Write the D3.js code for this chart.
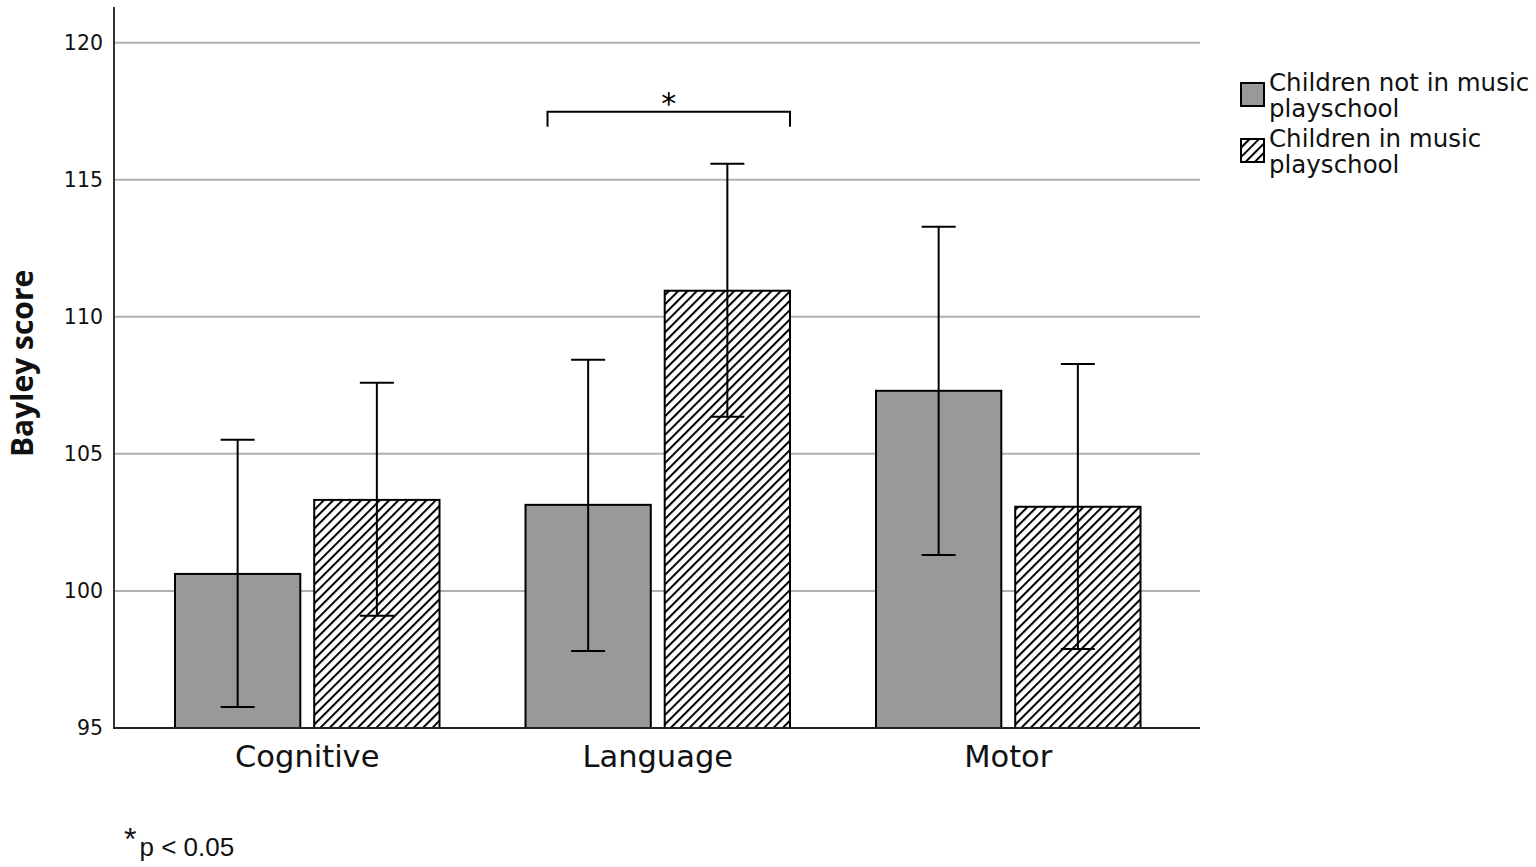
<!DOCTYPE html>
<html>
<head>
<meta charset="utf-8">
<script src="https://cdn.jsdelivr.net/npm/d3@7"></script>
<style>
  html, body { margin: 0; padding: 0; background: #fff; }
  svg { display: block; }
</style>
</head>
<body>
<svg id="chart" width="1536" height="867"></svg>
<script>
const categories = ["Cognitive", "Language", "Motor"];
const groups = ["Children not in music playschool", "Children in music playschool"];
const legendLines = [["Children not in music", "playschool"], ["Children in music", "playschool"]];
const meansNotMusic = [100.62, 103.14, 107.30];
const meansMusic    = [103.32, 110.95, 103.07];
const upperNotMusic = [105.51, 108.43, 113.28];
const lowerNotMusic = [95.77, 97.81, 101.31];
const upperMusic    = [107.59, 115.58, 108.28];
const lowerMusic    = [99.09, 106.35, 97.88];
const yTicks = [95, 100, 105, 110, 115, 120];
const yDomain = [95, 121.3];
const sigCategory = "Language";

const data = categories.map((c, i) => ({
  cat: c,
  vals: [
    { g: groups[0], v: meansNotMusic[i], hi: upperNotMusic[i], lo: lowerNotMusic[i] },
    { g: groups[1], v: meansMusic[i], hi: upperMusic[i], lo: lowerMusic[i] }
  ]
}));

const svg = d3.select("#chart");
const defs = svg.append("defs");
const pat = defs.append("pattern")
  .attr("id", "hatch")
  .attr("patternUnits", "userSpaceOnUse")
  .attr("width", 6.6).attr("height", 6.6)
  .attr("patternTransform", "rotate(45)");
pat.append("rect").attr("width", 6.6).attr("height", 6.6).attr("fill", "#fff");
pat.append("line").attr("x1", 1).attr("y1", 0).attr("x2", 1).attr("y2", 6.6)
  .attr("stroke", "#000").attr("stroke-width", 2);

const plotLeft = 114, plotRight = 1200, plotBottom = 728;
const y = d3.scaleLinear().domain(yDomain).range([plotBottom, 7]);
const x0 = d3.scaleBand().domain(categories).range([132, 1183.5]).paddingInner(0).paddingOuter(0);
const x1 = d3.scaleBand().domain(groups).range([43, 307.5]).paddingInner(0.1).paddingOuter(0);
const fills = [ "#999999", "url(#hatch)" ];

// gridlines
svg.append("g").selectAll("line").data(yTicks.filter(t => t !== 95)).join("line")
  .attr("x1", plotLeft).attr("x2", plotRight)
  .attr("y1", d => y(d)).attr("y2", d => y(d))
  .attr("stroke", "#b0b0b0").attr("stroke-width", 2);

// y axis
const yAxis = d3.axisLeft(y).tickValues(yTicks).tickSize(0).tickPadding(11);
const yg = svg.append("g").attr("transform", `translate(${plotLeft},0)`).call(yAxis);
yg.select(".domain").remove();
yg.selectAll("text").attr("font-family", "'DejaVu Sans', sans-serif").attr("font-size", 20.5).attr("fill", "#111");

// bars
const cg = svg.append("g").selectAll("g").data(data).join("g")
  .attr("transform", d => `translate(${x0(d.cat)},0)`);
cg.selectAll("rect").data(d => d.vals).join("rect")
  .attr("x", d => x1(d.g))
  .attr("y", d => y(d.v))
  .attr("width", x1.bandwidth())
  .attr("height", d => y(yDomain[0]) - y(d.v))
  .attr("fill", (d, i) => fills[i])
  .attr("stroke", "#000").attr("stroke-width", 2);

// error bars
const eb = cg.selectAll("g.err").data(d => d.vals).join("g").attr("class", "err");
const cap = 17;
eb.append("line")
  .attr("x1", d => x1(d.g) + x1.bandwidth() / 2).attr("x2", d => x1(d.g) + x1.bandwidth() / 2)
  .attr("y1", d => y(d.hi)).attr("y2", d => y(d.lo))
  .attr("stroke", "#000").attr("stroke-width", 2);
eb.append("line")
  .attr("x1", d => x1(d.g) + x1.bandwidth() / 2 - cap).attr("x2", d => x1(d.g) + x1.bandwidth() / 2 + cap)
  .attr("y1", d => y(d.hi)).attr("y2", d => y(d.hi))
  .attr("stroke", "#000").attr("stroke-width", 2);
eb.append("line")
  .attr("x1", d => x1(d.g) + x1.bandwidth() / 2 - cap).attr("x2", d => x1(d.g) + x1.bandwidth() / 2 + cap)
  .attr("y1", d => y(d.lo)).attr("y2", d => y(d.lo))
  .attr("stroke", "#000").attr("stroke-width", 2);

// axis lines
svg.append("line").attr("x1", plotLeft).attr("x2", plotLeft).attr("y1", 7).attr("y2", plotBottom + 1)
  .attr("stroke", "#333").attr("stroke-width", 2);
svg.append("line").attr("x1", plotLeft - 1).attr("x2", plotRight).attr("y1", plotBottom).attr("y2", plotBottom)
  .attr("stroke", "#222").attr("stroke-width", 2);

// x labels
const xAxis = d3.axisBottom(x0).tickSize(0).tickPadding(17);
const xg = svg.append("g").attr("transform", `translate(0,${plotBottom})`).call(xAxis);
xg.select(".domain").remove();
xg.selectAll("text").attr("font-family", "'DejaVu Sans', sans-serif").attr("font-size", 30.5).attr("fill", "#111");

// y title
svg.append("text")
  .attr("transform", `translate(33,${y(108.3)}) rotate(-90)`)
  .attr("text-anchor", "middle")
  .attr("font-family", "'Open Sans', sans-serif").attr("font-weight", "bold")
  .attr("font-size", 30).attr("fill", "#111")
  .text("Bayley score");

// significance bracket
const si = categories.indexOf(sigCategory);
const bx1 = x0(sigCategory) + x1(groups[0]) + 22;
const bx2 = x0(sigCategory) + x1(groups[1]) + x1.bandwidth();
const by = y(upperMusic[si]) - 52;
svg.append("path")
  .attr("d", `M${bx1},${by + 15}V${by}H${bx2}V${by + 15}`)
  .attr("fill", "none").attr("stroke", "#000").attr("stroke-width", 2);
svg.append("text")
  .attr("x", (bx1 + bx2) / 2).attr("y", by + 2)
  .attr("text-anchor", "middle")
  .attr("font-family", "'DejaVu Sans', sans-serif").attr("font-size", 30).attr("fill", "#000")
  .text("*");

// legend
const lg = svg.append("g").attr("transform", "translate(1240,82)");
const items = lg.selectAll("g").data(groups).join("g")
  .attr("transform", (d, i) => `translate(0,${i * 56})`);
items.append("rect").attr("x", 1).attr("y", 1).attr("width", 23).attr("height", 23)
  .attr("fill", (d, i) => fills[i]).attr("stroke", "#000").attr("stroke-width", 2);
items.each(function(d, i) {
  const t = d3.select(this).append("text")
    .attr("font-family", "'DejaVu Sans', sans-serif").attr("font-size", 24.5).attr("fill", "#111");
  legendLines[i].forEach((ln, j) => {
    t.append("tspan").attr("x", 29).attr("y", 9 + j * 26).text(ln);
  });
});

// footnote
const fn = svg.append("text").attr("x", 124).attr("y", 856)
  .attr("font-family", "'Liberation Sans', Arial, sans-serif").attr("fill", "#111");
fn.append("tspan").attr("font-size", 32).attr("dy", -6).text("*");
fn.append("tspan").attr("font-size", 26).attr("dx", 3).attr("dy", 6).text("p < 0.05");
</script>
</body>
</html>
